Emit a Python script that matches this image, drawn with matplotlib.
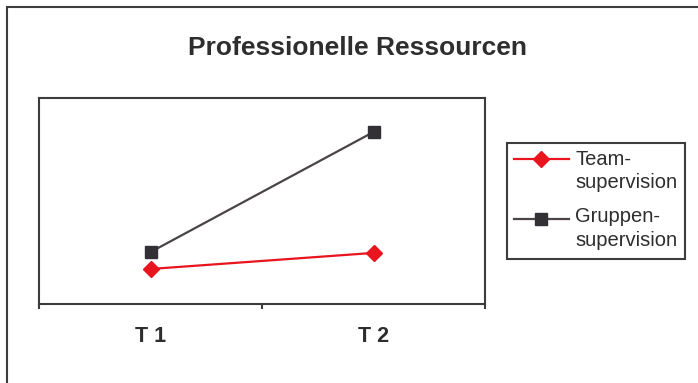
import matplotlib
matplotlib.use("Agg")
import matplotlib.pyplot as plt
from matplotlib.lines import Line2D
from matplotlib.patches import Rectangle

plt.rcParams['font.family'] = ['Liberation Sans', 'DejaVu Sans']

# group means at both measurement points
zeitpunkte = ['T 1', 'T 2']
team = [0.170, 0.248]
gruppen = [0.252, 0.835]
serien = ['Team-\nsupervision', 'Gruppen-\nsupervision']

RED = '#E8141E'
LINE_DARK = '#4A4444'
MARK_DARK = '#333135'
FRAME = '#3C3C3C'
TEXT = '#2E2E2E'

W, H = 698, 383
fig = plt.figure(figsize=(W / 100, H / 100), dpi=100)

# outer chart frame (continues past right and bottom edge)
fig.add_artist(Rectangle((6.5 / W, -0.2), 1.5, (H - 6.5) / H + 0.2,
                         transform=fig.transFigure, fill=False,
                         edgecolor=FRAME, linewidth=1.5))

ax = fig.add_axes([39 / W, 1 - 304 / H, (485 - 39) / W, (304 - 98) / H])
x = list(range(len(zeitpunkte)))
ax.plot(x, team, color=RED, lw=1.6, marker='D', ms=8, mfc=RED, mec=RED, zorder=3)
ax.plot(x, gruppen, color=LINE_DARK, lw=1.6, marker='s', ms=9, mfc=MARK_DARK,
        mec=MARK_DARK, zorder=3)

ax.set_xlim(-0.5, len(zeitpunkte) - 0.5)
ax.set_ylim(0, 1)
ax.set_yticks([])
ax.set_xticks([i - 0.5 for i in range(len(zeitpunkte) + 1)])
ax.set_xticklabels([])
ax.set_xticks(x, minor=True)
ax.set_xticklabels(zeitpunkte, minor=True, fontsize=15.5, fontweight='bold',
                   color=TEXT)
ax.tick_params(axis='x', which='major', direction='out', length=3.5, width=1.5,
               color=FRAME)
ax.tick_params(axis='x', which='minor', length=0, pad=16)
for sp in ax.spines.values():
    sp.set_color(FRAME)
    sp.set_linewidth(1.5)

fig.text(357 / W, 1 - 48 / H, 'Professionelle Ressourcen', ha='center',
         va='center', fontsize=19, fontweight='bold', color=TEXT)

# legend box drawn by hand so the handle sits on the first text line
fig.add_artist(Rectangle((507 / W, 1 - 259 / H), (685 - 507) / W, (259 - 143) / H,
                         transform=fig.transFigure, fill=False,
                         edgecolor=FRAME, linewidth=1.5))
styles = [(RED, RED, 'D', 8), (LINE_DARK, MARK_DARK, 's', 9)]
handle_y = [159, 219]
text_top = [150, 207]
for (lc, mc, mk, ms), label, yy, ty in zip(styles, serien, handle_y, text_top):
    fy = 1 - yy / H
    fig.add_artist(Line2D([514 / W, 569 / W], [fy, fy], transform=fig.transFigure,
                          color=lc, lw=1.6))
    fig.add_artist(Line2D([541 / W], [fy], transform=fig.transFigure,
                          marker=mk, ms=ms, mfc=mc, mec=mc, lw=0))
    fig.text(575 / W, 1 - ty / H, label, ha='left', va='top',
             fontsize=14.5, color=TEXT, linespacing=1.3)

fig.savefig('out.png', dpi=100)
